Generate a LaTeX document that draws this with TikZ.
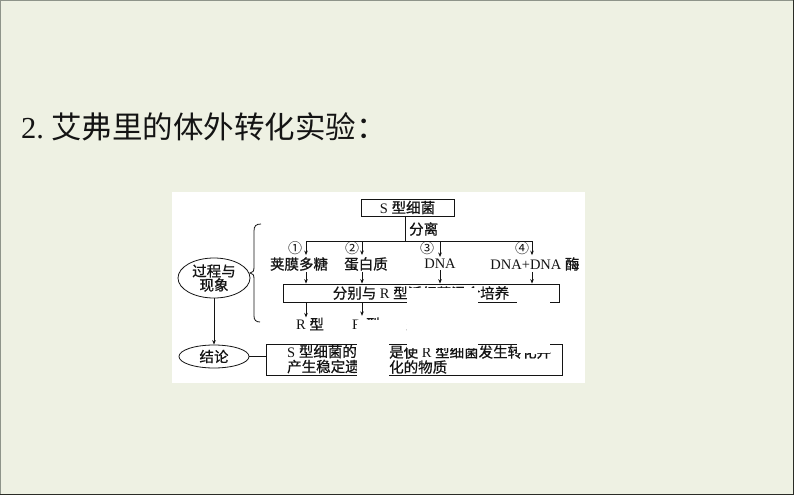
\documentclass[tikz,border=0pt]{standalone}
\usepackage{fontspec}
\setmainfont{Liberation Serif}
\newfontfamily\cjk{Noto Sans CJK SC}
\newfontfamily\cjkd{Noto Sans CJK SC}[FakeBold=0.8]
\usetikzlibrary{arrows.meta,shapes.geometric}
\definecolor{slidebg}{HTML}{EEF1E3}
\definecolor{edgegray}{HTML}{8E948A}
\definecolor{edgedark}{HTML}{2A2C26}
\definecolor{ink}{HTML}{141414}
\begin{document}
\begin{tikzpicture}[x=1pt,y=-1pt,
  lbl/.style={font=\fontsize{14.5}{16}\selectfont, inner sep=0pt, text=ink},
  numlbl/.style={font=\fontsize{14}{15}\selectfont\cjk, inner sep=0pt, text=ink},
  boxs/.style={draw=ink, line width=0.8pt, inner sep=0pt, font=\fontsize{14.5}{16}\selectfont, text=ink},
  ell/.style={draw=ink, line width=0.8pt, ellipse, inner sep=0pt, align=center,
              font=\fontsize{14.5}{15}\selectfont\cjkd, text=ink},
  conn/.style={draw=ink, line width=0.8pt},
  arr/.style={conn, -{Stealth[length=4.5pt,width=3.6pt]}},
  maskbox/.style={fill=white, draw=none}]
\useasboundingbox (0,0) rectangle (794,495);
% slide background and frame
\fill[slidebg] (0,0) rectangle (794,495);
\draw[edgegray, line width=1pt] (0.5,495) -- (0.5,0.5) -- (794,0.5);
\draw[edgedark, line width=1.2pt] (793.4,0) -- (793.4,494.4) -- (0,494.4);
% title
\node[anchor=base west, inner sep=0pt, font=\fontsize{30.5}{32}\selectfont, text=ink] (tnum) at (21,138) {2.};
\node[anchor=base west, inner sep=0pt, font=\fontsize{30.5}{32}\selectfont\cjk, text=ink] (title) at (51,138) {艾弗里的体外转化实验：};
% diagram panel
\fill[white] (172,192) rectangle (585,383);

% top box and split
\node[boxs, minimum width=93, minimum height=17] (sbox) at (407.5,207.5) {S {\cjkd 型细菌}};
\coordinate (split) at (405,241);
\coordinate (h1) at (306,241);
\coordinate (h2) at (362,241);
\coordinate (h3) at (440,241);
\coordinate (h4) at (532,241);
\draw[conn] (sbox.south -| split) -- (split);
\node[lbl, anchor=west] (fenli) at (409,229) {\cjkd 分离};
\draw[conn] (h1) -- (h4);

% numbers
\node[numlbl] (n1) at (295,248.5) {①};
\node[numlbl] (n2) at (352,248.5) {②};
\node[numlbl] (n3) at (427,248.5) {③};
\node[numlbl] (n4) at (522,248.5) {④};

% components
\node[lbl] (a1) at (299,264) {\cjkd 荚膜多糖};
\node[lbl] (a2) at (366,264) {\cjkd 蛋白质};
\node[lbl] (a3) at (440,264) {DNA};
\node[lbl] (a4) at (535,264) {DNA+DNA {\cjkd 酶}};
\foreach \h/\a in {h1/a1,h2/a2,h3/a3,h4/a4}{
  \draw[arr] (\h) -- ([yshift=2pt]\h |- \a.north);
}

% mixing box
\node[boxs, minimum width=276, minimum height=18] (mid) at (421,293) {{\cjkd 分别与} R {\cjkd 型活细菌混合培养}};
\foreach \h/\a in {h1/a1,h2/a2,h3/a3,h4/a4}{
  \draw[arr] ([yshift=-1pt]\h |- \a.south) -- (\h |- mid.north);
}

% results
\node[lbl] (r1) at (310,324) {R {\cjkd 型}};
\node[lbl, anchor=west] (r2) at (352,324) {R {\cjkd 型、}S {\cjkd 型}};
\draw[arr] (mid.south -| h1) -- (r1.north -| h1);
\draw[arr] (mid.south -| h2) -- ([yshift=1.5pt]r2.north -| h2);

% left ellipses and brace
\node[ell, minimum width=72, minimum height=40] (e1) at (214,278) {过程与\\[-1pt]现象};
\node[ell, minimum width=70, minimum height=23] (e2) at (214,356.5) {结论};
\draw[arr] (e1.south) -- (e2.north);
\draw[conn] (261,224) .. controls (256,224) and (254,226) .. (254,231)
  -- (254,267) .. controls (254,271) and (253,273) .. (250,273)
  .. controls (253,273) and (254,275) .. (254,279)
  -- (254,316) .. controls (254,320) and (256,322) .. (260,322);

% conclusion box
\node[boxs, minimum width=296, minimum height=31] (con) at (414,359.5) {};
\draw[conn] (e2.east) -- (e2.east -| con.west);
\node[lbl, anchor=west] (c1) at (287,351.5) {S {\cjkd 型细菌的}};
\node[lbl, anchor=west] (c2) at (287,366.5) {\cjkd 产生稳定遗};
\node[lbl, anchor=west] (c3) at (389,352) {{\cjkd 是使} R {\cjkd 型细菌发生转化并}};
\node[lbl, anchor=west] (c4) at (389,367) {\cjkd 化的物质};

% white masks over the hidden answers
\fill[maskbox] (357,320) rectangle (389,378);
\fill[maskbox] (389,305) rectangle (406,342.6);
\fill[maskbox] (406.5,287.5) rectangle (478,348);
\fill[maskbox] (478,304) rectangle (517,341);
\fill[maskbox] (517,287.5) rectangle (550,353);
\end{tikzpicture}
\end{document}
